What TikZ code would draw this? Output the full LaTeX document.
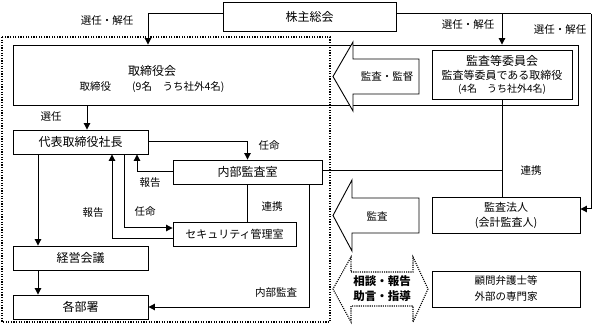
\documentclass[tikz,border=0pt]{standalone}
\usepackage{fontspec}
\setmainfont{Noto Sans CJK JP}
\usetikzlibrary{arrows.meta}
\begin{document}
\begin{tikzpicture}[x=1pt,y=-1pt,
  box/.style={draw, line width=0.9pt, inner sep=0pt, anchor=center},
  tbig/.style={font=\fontsize{12}{14}\selectfont},
  tmid/.style={font=\fontsize{11}{13}\selectfont},
  lbl/.style={inner sep=0pt, font=\fontsize{10.5}{12}\selectfont},
  conn/.style={line width=1pt, -{Triangle[length=6.5pt,width=6.5pt]}},
  plain/.style={line width=1pt},
  bigarrow/.style={draw, line width=0.9pt, fill=white, line join=miter},
  dotbox/.style={line width=1.3pt, dash pattern=on 1.3pt off 1.3pt},
  dotarrow/.style={line width=1.1pt, dash pattern=on 1.1pt off 1.1pt, fill=white}
]
\useasboundingbox (0,0) rectangle (592,331);

% boxes
\node[box, tbig, minimum width=173pt, minimum height=29pt] (sh) at (309.5,16.5) {株主総会};
\node[box, minimum width=565pt, minimum height=60pt] (board) at (295.5,75) {};
\node[box, minimum width=140pt, minimum height=49pt] (audit) at (502,74.5) {};
\node[box, tbig, minimum width=135pt, minimum height=24pt] (ceo) at (80.5,142) {代表取締役社長};
\node[box, tbig, minimum width=149pt, minimum height=24pt] (ia) at (247.5,172) {内部監査室};
\node[box, tmid, minimum width=123pt, minimum height=24pt] (sec) at (234.5,234) {セキュリティ管理室};
\node[box, tbig, minimum width=135pt, minimum height=24pt] (mgmt) at (80.5,258) {経営会議};
\node[box, tbig, minimum width=135pt, minimum height=24pt] (dept) at (80.5,307) {各部署};
\node[box, minimum width=148pt, minimum height=36pt] (auditor) at (506,215) {};
\node[box, minimum width=148pt, minimum height=36pt] (lawyer) at (506,289) {};

% texts inside boxes
\node[tbig, inner sep=0pt] (boardt) at (152,71) {取締役会};
\node[lbl] (boardm) at (152,87) {取締役　　(9名　うち社外4名)};
\node[tbig, inner sep=0pt] (auditt) at (502,61) {監査等委員会};
\node[tmid, inner sep=0pt] (auditm) at (502,75.5) {監査等委員である取締役};
\node[inner sep=0pt, font=\fontsize{10}{12}\selectfont] (auditn) at (502,89.5) {(4名　うち社外4名)};
\node[tmid, inner sep=0pt] (audt1) at (506,207) {監査法人};
\node[tmid, inner sep=0pt] (audt2) at (506,223) {(会計監査人)};
\node[lbl] (law1) at (506,281) {顧問弁護士等};
\node[lbl] (law2) at (506,297) {外部の専門家};

% big arrows
\draw[bigarrow] (419,59) -- (353,59) -- (353,42) -- (333,76.5) -- (353,111) -- (353,94) -- (419,94) -- cycle;
\node[lbl] (kansa1) at (387,76.5) {監査・監督};
\draw[bigarrow] (419,198) -- (352,198) -- (352,180) -- (333,215.5) -- (352,251) -- (352,233) -- (419,233) -- cycle;
\node[lbl] (kansa2) at (377,216) {監査};
\draw[dotarrow] (351,272) -- (413,272) -- (413,257) -- (428,289) -- (413,322) -- (413,306) -- (351,306) -- (351,322) -- (333,289) -- (351,257) -- cycle;
\node[inner sep=0pt, font=\fontsize{11.5}{15}\selectfont\bfseries, align=center] (soudan) at (382,288.5) {相談・報告\\助言・指導};

% connectors
\draw[conn] ([yshift=2.5pt]sh.west) -| ([xshift=-147.5pt]board.north);
\coordinate (rc) at (591,14);
\draw[plain] ([yshift=2.5pt]sh.east) -- (rc);
\draw[conn] (rc) |- ([yshift=6pt]auditor.east);
\draw[conn] (audit.north |- rc) -- (audit.north |- board.north);
\draw[conn] ([xshift=6.5pt]ceo.north |- board.south) -- ([xshift=6.5pt]ceo.north);
\draw[conn] (ceo.east) -| (ia.north);
\draw[conn] (ia.west) -| ([xshift=56.5pt]ceo.south);
\draw[conn] ([xshift=43.5pt]ceo.south) |- ([yshift=6pt]sec.west);
\draw[conn] ([yshift=-5pt]sec.west) -| ([xshift=31.5pt]ceo.south);
\draw[conn] ([xshift=-42.5pt]ceo.south) -- ([xshift=-42.5pt]mgmt.north);
\draw[conn] ([xshift=-42.5pt]mgmt.south) -- ([xshift=-42.5pt]dept.north);
\draw[conn] ([xshift=61.5pt]ia.south) |- (dept.east);
\draw[plain] (ia.south) -- (ia.south |- sec.north);
\draw[plain] (audit.south) -- (audit.south |- auditor.north);
\draw[plain] ([yshift=1pt]ia.east) -- ([yshift=1pt]ia.east -| audit.south);

% labels
\node[lbl] (l1) at (107,21) {選任・解任};
\node[lbl] (l2) at (468,25) {選任・解任};
\node[lbl] (l3) at (560,29.5) {選任・解任};
\node[lbl] (l4) at (51,117) {選任};
\node[lbl] (l5) at (269,146) {任命};
\node[lbl] (l6) at (150,183) {報告};
\node[lbl] (l7) at (145,212) {任命};
\node[lbl] (l8) at (93,213) {報告};
\node[lbl] (l9) at (272,207) {連携};
\node[lbl] (l10) at (276,293) {内部監査};
\node[lbl] (l11) at (531,171) {連携};

% dotted frame
\draw[dotbox] (2,37) rectangle (330,322);
\end{tikzpicture}
\end{document}
